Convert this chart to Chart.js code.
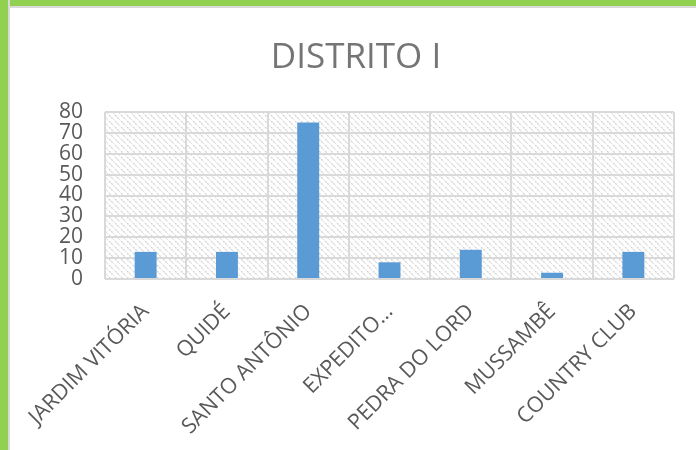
<!DOCTYPE html>
<html>
<head>
<meta charset="utf-8">
<script src="https://cdn.jsdelivr.net/npm/chart.js@4"></script>
<style>
  html, body { margin: 0; padding: 0; background: #fff; }
  #wrap { position: relative; width: 696px; height: 450px; overflow: hidden; }
  #frameTop { position: absolute; left: 0; top: 0; width: 696px; height: 6px; background: #92d050; border-bottom: 2px solid #d9d9d9; }
  #frameLeft { position: absolute; left: 0; top: 0; width: 8px; height: 450px; background: #92d050; border-right: 2px solid #d9d9d9; }
  canvas { position: absolute; left: 0; top: 0; }
</style>
</head>
<body>
<div id="wrap">
  <canvas id="chart" width="696" height="450"></canvas>
  <div id="frameTop"></div>
  <div id="frameLeft"></div>
</div>
<script>
// chart data
const chartTitle = 'DISTRITO I';
const districts = ['JARDIM VITÓRIA', 'QUIDÉ', 'SANTO ANTÔNIO', 'EXPEDITO…', 'PEDRA DO LORD', 'MUSSAMBÊ', 'COUNTRY CLUB'];
const counts = [13, 13, 75, 8, 14, 3, 13];
const yTicks = [0, 10, 20, 30, 40, 50, 60, 70, 80];

const grid = '#d9d9d9';
const ink = '#595959';

function hatchPattern(ctx) {
  const c = document.createElement('canvas');
  c.width = 6;
  c.height = 6;
  const g = c.getContext('2d');
  g.fillStyle = '#ffffff';
  g.fillRect(0, 0, 6, 6);
  g.strokeStyle = '#d2d2d2';
  g.lineWidth = 1.3;
  g.setLineDash([2, 1]);
  g.beginPath();
  g.moveTo(-1, -1); g.lineTo(7, 7);
  g.moveTo(-4, 2); g.lineTo(4, 10);
  g.moveTo(2, -4); g.lineTo(10, 4);
  g.stroke();
  return ctx.createPattern(c, 'repeat');
}

const plotBg = {
  id: 'plotBg',
  beforeDraw(chart) {
    const { ctx, chartArea: a } = chart;
    ctx.save();
    ctx.fillStyle = hatchPattern(ctx);
    ctx.fillRect(a.left, a.top, a.right - a.left, a.bottom - a.top);
    ctx.restore();
  }
};

// title sits centred on the whole frame, not on the chart box
const frameTitle = {
  id: 'frameTitle',
  afterDraw(chart) {
    const ctx = chart.ctx;
    ctx.save();
    ctx.fillStyle = '#757575';
    ctx.font = '35px "Open Sans"';
    ctx.textAlign = 'center';
    ctx.textBaseline = 'alphabetic';
    ctx.fillText(chartTitle, 356, 68);
    ctx.restore();
  }
};

new Chart(document.getElementById('chart').getContext('2d'), {
  type: 'bar',
  data: {
    labels: districts,
    datasets: [{
      data: counts,
      backgroundColor: '#5b9bd5',
      categoryPercentage: 1,
      barPercentage: 0.27
    }]
  },
  options: {
    responsive: false,
    animation: false,
    layout: { padding: { left: 0, right: 22, top: 112, bottom: 0 } },
    plugins: {
      legend: { display: false },
      tooltip: { enabled: false },
      title: { display: false }
    },
    scales: {
      x: {
        afterFit: (s) => { s.height = 171; },
        grid: { color: grid, lineWidth: 2, drawTicks: false },
        border: { display: false },
        ticks: {
          color: ink,
          font: { family: 'Open Sans', size: 21.5 },
          minRotation: 45,
          maxRotation: 45,
          autoSkip: false,
          padding: 20
        }
      },
      y: {
        min: 0,
        max: 80,
        afterFit: (s) => { s.width = 105; },
        afterBuildTicks: (s) => { s.ticks = yTicks.map((v) => ({ value: v })); },
        grid: { color: grid, lineWidth: 2, drawTicks: false },
        border: { display: false },
        ticks: {
          color: ink,
          font: { family: 'Open Sans', size: 21 },
          autoSkip: false,
          padding: 22
        }
      }
    }
  },
  plugins: [plotBg, frameTitle]
});
</script>
</body>
</html>
